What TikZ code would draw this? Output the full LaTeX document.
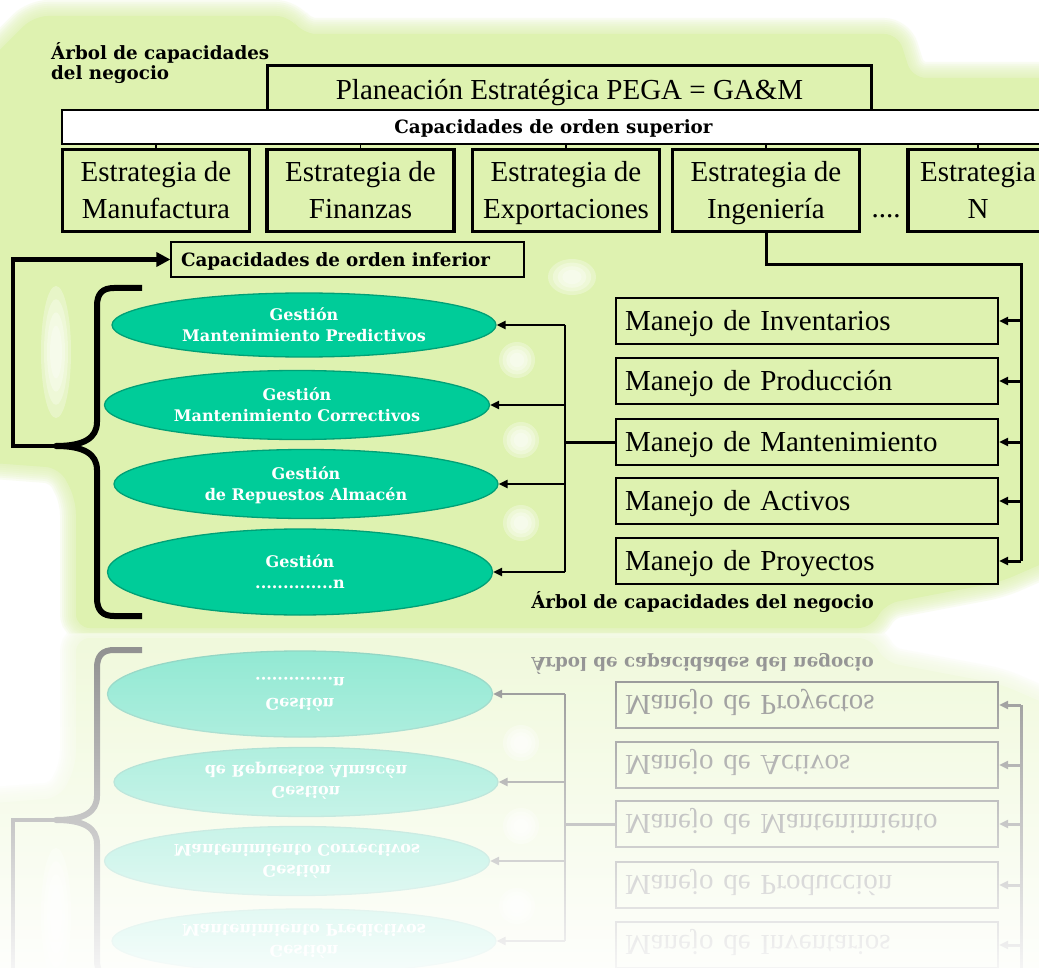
\documentclass[tikz,border=0pt]{standalone}
\usepackage{fontspec}
\setmainfont{Liberation Serif}
\newfontfamily\labfont{DejaVu Serif}
\usetikzlibrary{shapes.geometric,arrows.meta,fadings}

\definecolor{leaf}{RGB}{222,242,176}
\definecolor{mint}{RGB}{0,204,153}
\definecolor{mintedge}{RGB}{0,160,118}

\tikzset{
  topbox/.style={draw, line width=3pt, fill=leaf, minimum width=604pt, minimum height=48pt,
    inner sep=0pt, text height=19.5pt, text depth=0pt, font=\fontsize{29}{34}\selectfont},
  bandbox/.style={draw, line width=1.2pt, fill=white, minimum width=983pt, minimum height=34pt,
    inner sep=0pt, text height=13.3pt, text depth=0pt, font=\labfont\bfseries\fontsize{18.3}{20}\selectfont},
  stratbox/.style={draw, line width=3.2pt, fill=leaf, minimum width=187pt, minimum height=82pt,
    inner sep=0pt, align=center, text height=57pt, text depth=0pt, font=\fontsize{29}{37}\selectfont},
  infbox/.style={draw, line width=1.2pt, fill=leaf, minimum height=35pt, text width=333pt,
    inner xsep=10pt, inner ysep=0pt, align=left, text height=13.3pt, text depth=0pt,
    font=\labfont\bfseries\fontsize{18.3}{20}\selectfont},
  gest/.style={ellipse, draw=mintedge, line width=1.3pt, fill=mint, inner sep=0pt, text=white,
    align=center, text height=33.2pt, text depth=0pt, font=\labfont\bfseries\fontsize{16}{21.5}\selectfont},
  manejo/.style={draw, line width=2pt, fill=leaf, minimum height=46pt, text width=364pt,
    inner xsep=9pt, inner ysep=0pt, align=left, text height=19.5pt, text depth=0pt,
    font=\fontsize{29}{34}\selectfont},
  lab/.style={inner sep=0pt, font=\labfont\bfseries\fontsize{18.3}{20}\selectfont},
  gapdots/.style={inner sep=0pt, font=\fontsize{29}{34}\selectfont},
  tick/.style={line width=1.3pt},
  brace/.style={line width=6pt, line join=round},
  feed/.style={line width=4.5pt, -{Triangle[length=14pt,width=14pt]}},
  bus/.style={line width=3pt},
  busarrow/.style={line width=3pt, -{Triangle[length=9pt,width=8pt]}},
  link/.style={line width=2.4pt},
  linkarrow/.style={line width=2.4pt, -{Triangle[length=9pt,width=8pt]}},
}

\tikzfading[name=reflfade, top color=transparent!45, bottom color=transparent!4]

% soft green backdrop outline
\newcommand{\glowoutline}[1]{%
  \path[#1] (34,16) -- (290,16) -- (302,34) -- (898,34) -- (912,78) -- (1060,78)
    -- (1060,556) -- (1000,582) -- (884,604) -- (872,628) -- (76,628) -- (76,500)
    -- (60,468) -- (-20,462) -- (-20,70) -- (10,40) -- cycle;}

% pale highlight spot: x, y, x radius, y radius
\newcommand{\softspot}[4]{%
  \foreach \k in {1.0,0.8,0.6,0.4}{%
    \fill[white, opacity=0.3] (#1,#2) ellipse [x radius={\k*#3pt}, y radius={\k*#4pt}];}}

\newcommand{\capdiagram}{%
  % backdrop
  \glowoutline{fill=leaf, rounded corners=14pt}
  \foreach \w in {32,28,...,4}{\glowoutline{draw=leaf, opacity=0.16, line width=\w pt, rounded corners=14pt}}
  \softspot{56}{352}{15}{66}
  \softspot{572}{277}{24}{18}
  \softspot{517}{360}{18}{18}
  \softspot{521}{440}{18}{18}
  \softspot{521}{523}{18}{18}

  % higher-order capabilities
  \node[topbox] (peg) at (569.5,90) {Planeación Estratégica PEGA = GA\&M};
  \node[bandbox] (sup) at (553.5,127) {Capacidades de orden superior};
  \node[stratbox] (sm) at (156,190.5) {Estrategia de\\Manufactura};
  \node[stratbox] (sf) at (360.5,190.5) {Estrategia de\\Finanzas};
  \node[stratbox] (se) at (566,190.5) {Estrategia de\\Exportaciones};
  \node[stratbox] (si) at (766,190.5) {Estrategia de\\Ingeniería};
  \node[stratbox, minimum width=140pt] (sn) at (978,190.5) {Estrategia\\N};
  \node[gapdots] (gap) at (886,216) {....};
  \foreach \s in {sm,sf,se,si,sn}{\draw[tick] (sup.south -| \s.north) -- (\s.north);}

  % lower-order capabilities
  \node[infbox] (inf) at (347.5,259.5) {Capacidades de orden inferior};
  \coordinate (tip) at (56,446);
  \coordinate (fb) at (13,446);
  \draw[brace] (142,288) -- (114,288) .. controls (102,288) and (97,294) .. (97,306)
    -- (97,422) .. controls (97,438) and (84,446) .. (tip)
    .. controls (84,446) and (97,454) .. (97,470)
    -- (97,598) .. controls (97,610) and (102,616) .. (114,616) -- (142,616);
  \draw[feed] (tip) -- (fb) |- (inf.west);

  \node[gest, minimum width=384pt, minimum height=64pt] (e1) at (304,325) {Gestión\\Mantenimiento Predictivos};
  \node[gest, minimum width=385pt, minimum height=69pt] (e2) at (297,405) {Gestión\\Mantenimiento Correctivos};
  \node[gest, minimum width=384pt, minimum height=69pt] (e3) at (306,484) {Gestión\\de Repuestos Almacén};
  \node[gest, minimum width=385pt, minimum height=86pt] (e4) at (300,572) {Gestión\\..............n};

  \node[manejo] (mi) at (807,321) {Manejo de Inventarios};
  \node[manejo] (mp) at (807,381) {Manejo de Producción};
  \node[manejo] (mm) at (807,442) {Manejo de Mantenimiento};
  \node[manejo] (ma) at (807,501) {Manejo de Activos};
  \node[manejo] (mj) at (807,561) {Manejo de Proyectos};

  % engineering strategy feeds the management boxes
  \coordinate (rbus) at (1021,265);
  \draw[bus] (si.south) |- (rbus) -- (rbus |- mj);
  \foreach \m in {mi,mp,mm,ma,mj}{\draw[busarrow] (rbus |- \m) -- (\m.east);}

  % maintenance management feeds the Gestión ellipses
  \coordinate (lbus) at (565,442);
  \draw[bus] (mm.west) -- (lbus);
  \draw[link] (lbus |- e1) -- (lbus |- e4);
  \foreach \g in {e1,e2,e3,e4}{\draw[linkarrow] (lbus |- \g) -- (\g.east);}

  % labels
  \node[lab, align=left, anchor=north west, text height=33.3pt, text depth=0pt] (ttl) at (51,46.5) {Árbol de capacidades\\del negocio};
  \node[lab, text height=13.3pt, text depth=0pt] (cap) at (702.5,602) {Árbol de capacidades del negocio};
}

\begin{document}
\begin{tikzpicture}[x=1pt,y=-1pt]
  \useasboundingbox (0,0) rectangle (1039,968);
  \fill[white] (0,0) rectangle (1039,968);
  \begin{scope}
    \clip (0,0) rectangle (1039,633);
    \capdiagram
  \end{scope}
  % mirrored copy below the base line, fading out
  \begin{scope}
    \clip (0,633) rectangle (1039,968);
    \begin{scope}[yshift=-1266pt, yscale=-1, transform shape]
      \capdiagram
    \end{scope}
    \fill[white, path fading=reflfade] (0,633) rectangle (1039,968);
  \end{scope}
\end{tikzpicture}
\end{document}
